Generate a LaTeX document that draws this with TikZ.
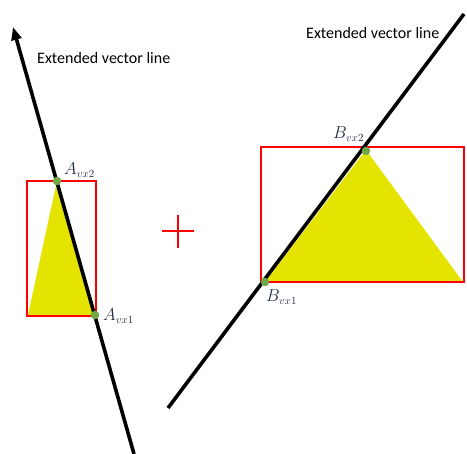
\documentclass[tikz,border=0pt]{standalone}
\usepackage{fontspec}
\setmainfont{Carlito}
\usetikzlibrary{arrows.meta}

\definecolor{triyellow}{RGB}{228,228,0}
\definecolor{dotgreen}{RGB}{112,168,72}
\definecolor{lblblue}{RGB}{35,45,70}

\begin{document}
\begin{tikzpicture}[x=1pt, y=-1pt,
    tri/.style={fill=triyellow, draw=none},
    bbox/.style={draw=red, line width=2.4pt},
    vline/.style={line width=3.6pt, black},
    vdot/.style={circle, fill=dotgreen, inner sep=0pt, minimum size=8.5pt},
    vlbl/.style={anchor=west, inner sep=0pt, text=lblblue, font=\fontsize{16}{18}\selectfont},
    note/.style={anchor=west, inner sep=0pt, font=\fontsize{16}{19}\selectfont}
    ]
    \useasboundingbox (0,0) rectangle (467,454);

    % left part
    \fill[tri] (28,315) -- (57,181) -- (95,315) -- cycle;
    \draw[bbox] (27,181) rectangle (96,316);
    \coordinate (atop) at (13,27);
    \coordinate (abot) at (134,454);
    \draw[vline, -{Triangle[length=13pt, width=10pt]}] (abot) -- (atop);
    \node[vdot] (avx2) at (57,181) {};
    \node[vdot] (avx1) at (95,315) {};
    \node[vlbl] (avx2lbl) at (64,170) {$A_{vx2}$};
    \node[vlbl] (avx1lbl) at (103,316) {$A_{vx1}$};
    \node[note] (anote) at (37,58) {Extended vector line};

    % plus sign
    \draw[red, line width=2.4pt] (162,231) -- (194,231) (178,215) -- (178,248);

    % right part
    \fill[tri] (265,282) -- (366,150) -- (463,282) -- cycle;
    \draw[bbox] (261,147) rectangle (464,282);
    \coordinate (btop) at (464,14);
    \coordinate (bbot) at (168,408);
    \draw[vline] (bbot) -- (btop);
    \node[vdot] (bvx1) at (265,282) {};
    \node[vdot] (bvx2) at (366,151) {};
    \node[vlbl] (bvx1lbl) at (266,297) {$B_{vx1}$};
    \node[vlbl] (bvx2lbl) at (333,134) {$B_{vx2}$};
    \node[note] (bnote) at (306,33) {Extended vector line};
  \end{tikzpicture}
\end{document}
